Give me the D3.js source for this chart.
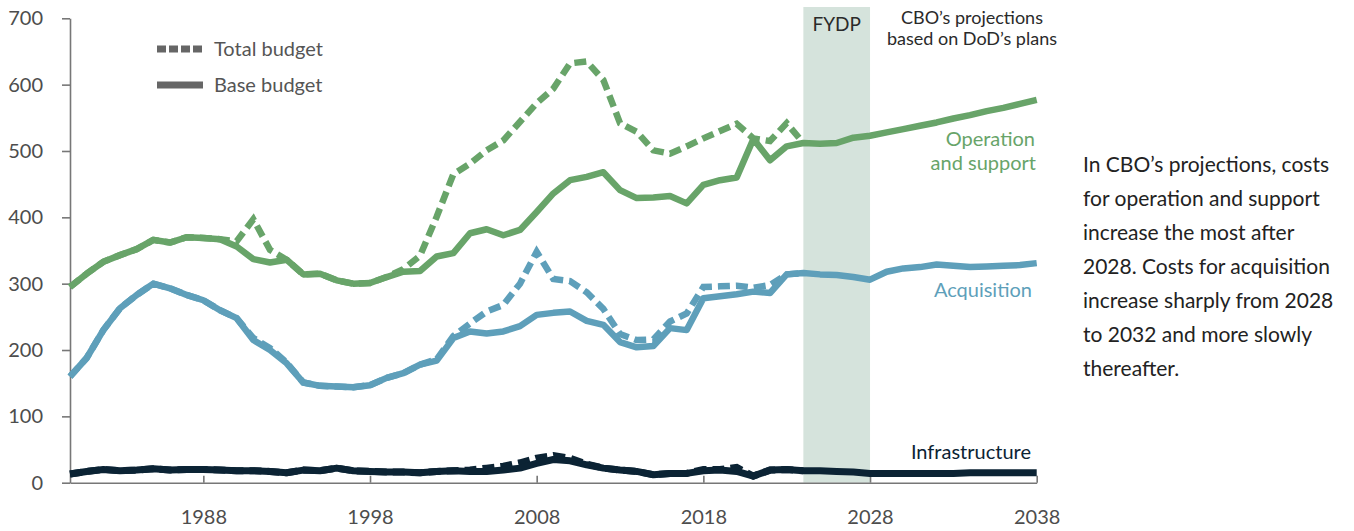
<!DOCTYPE html>
<html>
<head>
<meta charset="utf-8">
<script src="https://cdn.jsdelivr.net/npm/d3@7"></script>
<style>
  body { margin: 0; background: #fff; }
  text { font-family: Lato, "Open Sans", sans-serif; }
</style>
</head>
<body>
<script>
// years shown on the chart, history runs to 2024, projections after
var years = d3.range(1980, 2039);
var histYears = d3.range(1980, 2025);
var tickYears = [1988, 1998, 2008, 2018, 2028, 2038];
var yTicks = [0, 100, 200, 300, 400, 500, 600, 700];

// operation and support, billions
var osBase = [295, 315, 333, 343, 352, 366, 362, 370, 369, 367,
  356, 337, 332, 336, 314, 315, 305, 300, 301, 310,
  318, 319, 341, 346, 376, 382, 373, 381, 408, 436,
  456, 461, 468, 441, 429, 430, 432, 421, 449, 456,
  460, 518, 486, 507, 512, 511, 512, 520, 523, 528,
  533, 538, 543, 549, 554, 560, 565, 571, 577];
var osTotal = [295, 315, 333, 343, 352, 366, 362, 370, 369, 367,
  364, 397, 351, 336, 314, 315, 305, 300, 301, 310,
  322, 342, 401, 465, 481, 501, 516, 544, 572, 594,
  632, 635, 607, 542, 529, 501, 496, 507, 519, 530,
  541, 519, 515, 542, 512];

// acquisition
var acqBase = [160, 188, 230, 263, 283, 300, 293, 283, 275, 260,
  248, 215, 200, 180, 151, 146, 145, 144, 147, 158,
  165, 178, 184, 218, 228, 225, 228, 236, 253, 256,
  258, 244, 238, 212, 204, 206, 233, 230, 278, 281,
  284, 288, 286, 314, 316, 314, 313, 310, 306, 318,
  323, 325, 329, 327, 325, 326, 327, 328, 331];
var acqTotal = [160, 188, 230, 263, 283, 300, 293, 283, 275, 260,
  248, 218, 203, 181, 151, 146, 145, 144, 147, 158,
  165, 178, 186, 221, 240, 258, 268, 300, 348, 307,
  304, 287, 262, 224, 215, 216, 243, 255, 295, 296,
  297, 294, 298, 314, 316];

// infrastructure
var infBase = [13, 17, 20, 18, 19, 21, 19, 20, 20, 19,
  18, 18, 17, 15, 19, 18, 22, 18, 17, 16,
  16, 15, 17, 18, 17, 17, 19, 22, 29, 35,
  33, 27, 22, 19, 17, 12, 14, 14, 18, 19,
  17, 10, 19, 20, 18, 18, 17, 16, 14, 14,
  14, 14, 14, 14, 15, 15, 15, 15, 15];
var infTotal = [13, 17, 20, 18, 19, 21, 19, 20, 20, 19,
  18, 18, 17, 15, 19, 18, 22, 18, 17, 16,
  16, 15, 17, 18, 19, 22, 25, 30, 37, 41,
  37, 28, 22, 19, 17, 12, 14, 14, 20, 20,
  23, 10, 19, 20, 18];

var fydp = [2024, 2028];

var green = "#68a469", blue = "#5e9fba", navy = "#0b2334";

var svg = d3.select("body").append("svg")
    .attr("width", 1354)
    .attr("height", 531);

var x = d3.scaleLinear().domain([1980, 2038]).range([70, 1036.7]);
var y = d3.scaleLinear().domain([0, 700]).range([482.7, 18.3]);

// FYDP band
svg.append("rect")
    .attr("x", x(fydp[0]))
    .attr("y", 7)
    .attr("width", x(fydp[1]) - x(fydp[0]))
    .attr("height", y(0) - 7)
    .attr("fill", "#d5e3dc");

svg.append("text").text("FYDP")
    .attr("x", (x(fydp[0]) + x(fydp[1])) / 2).attr("y", 31)
    .attr("text-anchor", "middle")
    .attr("font-size", 19).attr("fill", "#2a2a2a");

svg.append("text").text("CBO’s projections")
    .attr("x", 972).attr("y", 23.5)
    .attr("text-anchor", "middle")
    .attr("font-size", 18).attr("fill", "#2a2a2a");
svg.append("text").text("based on DoD’s plans")
    .attr("x", 972).attr("y", 45)
    .attr("text-anchor", "middle")
    .attr("font-size", 18).attr("fill", "#2a2a2a");

// axes
var yAxis = svg.append("g")
    .attr("transform", "translate(" + x(1980) + ",0)")
    .call(d3.axisLeft(y).tickValues(yTicks).tickSize(8).tickSizeOuter(0).tickPadding(19));
var xAxis = svg.append("g")
    .attr("transform", "translate(0," + y(0) + ")")
    .call(d3.axisBottom(x).tickValues(tickYears).tickFormat(d3.format("d"))
      .tickSize(-7).tickSizeOuter(0).tickPadding(27));

[yAxis, xAxis].forEach(function(g) {
  g.select(".domain").attr("stroke", "#777").attr("stroke-width", 1.6);
  g.selectAll(".tick line").attr("stroke", "#777").attr("stroke-width", 1.6);
  g.selectAll(".tick text").attr("font-size", 20).attr("fill", "#4d4d4d")
    .style("font-family", "Lato, sans-serif");
});

// lines
var line = d3.line()
    .x(function(d) { return x(d[0]); })
    .y(function(d) { return y(d[1]); });

function pairs(yrs, vals) {
  return yrs.map(function(yr, i) { return [yr, vals[i]]; });
}

var series = [
  { total: acqTotal, base: acqBase, color: blue, w: 6.5 },
  { total: osTotal, base: osBase, color: green, w: 6.5 },
  { total: infTotal, base: infBase, color: navy, w: 7 }
];

series.forEach(function(s) {
  svg.append("path")
      .attr("d", line(pairs(histYears, s.total)))
      .attr("fill", "none")
      .attr("stroke", s.color)
      .attr("stroke-width", s.w)
      .attr("stroke-dasharray", "12,6");
});
series.forEach(function(s) {
  svg.append("path")
      .attr("d", line(pairs(years, s.base)))
      .attr("fill", "none")
      .attr("stroke", s.color)
      .attr("stroke-width", s.w)
      .attr("stroke-linejoin", "round");
});

// series labels
svg.append("text").text("Operation")
    .attr("x", 1035).attr("y", 146).attr("text-anchor", "end")
    .attr("font-size", 20).attr("fill", green);
svg.append("text").text("and support")
    .attr("x", 1036).attr("y", 170).attr("text-anchor", "end")
    .attr("font-size", 20).attr("fill", green);
svg.append("text").text("Acquisition")
    .attr("x", 1032).attr("y", 297).attr("text-anchor", "end")
    .attr("font-size", 20).attr("fill", blue);
svg.append("text").text("Infrastructure")
    .attr("x", 1031).attr("y", 459).attr("text-anchor", "end")
    .attr("font-size", 20).attr("fill", navy);

// legend
var legend = svg.append("g");
legend.append("line")
    .attr("x1", 157).attr("x2", 203).attr("y1", 49).attr("y2", 49)
    .attr("stroke", "#666").attr("stroke-width", 7)
    .attr("stroke-dasharray", "9,3");
legend.append("line")
    .attr("x1", 157).attr("x2", 203).attr("y1", 85).attr("y2", 85)
    .attr("stroke", "#666").attr("stroke-width", 7);
legend.append("text").text("Total budget")
    .attr("x", 214).attr("y", 56).attr("font-size", 20).attr("fill", "#555");
legend.append("text").text("Base budget")
    .attr("x", 214).attr("y", 92).attr("font-size", 20).attr("fill", "#555");

// note on the right
var note = ["In CBO’s projections, costs",
  "for operation and support",
  "increase the most after",
  "2028. Costs for acquisition",
  "increase sharply from 2028",
  "to 2032 and more slowly",
  "thereafter."];
svg.append("g").selectAll("text")
  .data(note)
  .join("text")
    .text(function(d) { return d; })
    .attr("x", 1083)
    .attr("y", function(d, i) { return 172 + i * 34; })
    .attr("font-size", 21)
    .attr("fill", "#222");
</script>
</body>
</html>
